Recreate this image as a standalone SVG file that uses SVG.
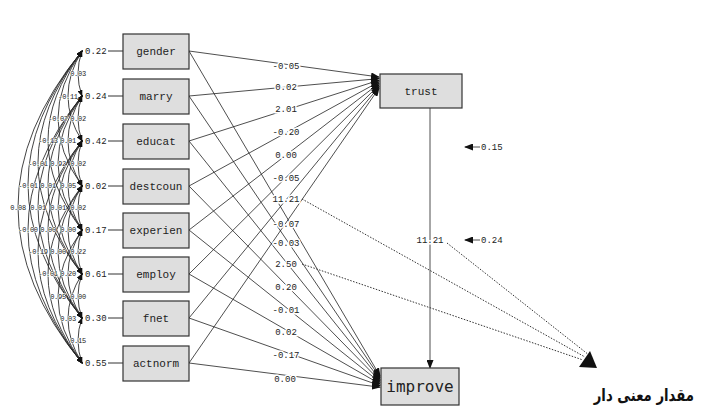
<svg xmlns="http://www.w3.org/2000/svg" width="704" height="410" viewBox="0 0 704 410">
<style>
.box{fill:#dedede;stroke:#333;stroke-width:1.2}
.nl{font-family:"Liberation Mono","DejaVu Sans Mono",monospace;font-size:11px;fill:#222;text-anchor:middle}
.lb{font-family:"Liberation Mono","DejaVu Sans Mono",monospace;font-size:9px;fill:#222;text-anchor:middle;stroke:#fff;stroke-width:3;paint-order:stroke}
.cl{font-family:"Liberation Mono","DejaVu Sans Mono",monospace;font-size:7px;letter-spacing:-0.3px;fill:#222;text-anchor:middle;stroke:#fff;stroke-width:1;paint-order:stroke}
.vl{font-family:"Liberation Mono","DejaVu Sans Mono",monospace;font-size:9px;fill:#222}
.p{fill:none;stroke:#222;stroke-width:0.8;marker-end:url(#ah)}
.arc{fill:none;stroke:#222;stroke-width:0.85;marker-start:url(#as);marker-end:url(#as)}
.dot{fill:none;stroke:#333;stroke-width:1;stroke-dasharray:1.5 1.5}
</style>
<defs>
<marker id="ah" markerUnits="userSpaceOnUse" markerWidth="9" markerHeight="7" refX="8" refY="3.5" orient="auto"><path d="M0,0 L9,3.5 L0,7 z" fill="#111"/></marker>
<marker id="as" markerUnits="userSpaceOnUse" markerWidth="7" markerHeight="5" refX="6" refY="2.5" orient="auto-start-reverse"><path d="M0,0 L7,2.5 L0,5 z" fill="#111"/></marker>
</defs>
<rect width="704" height="410" fill="#fff"/>

<g id="covariances">
<path class="arc" d="M82,51 Q74,73.5 82,96"/>
<path class="arc" d="M82,51 Q54,96 82,141"/>
<path class="arc" d="M82,51 Q34,118.5 82,186"/>
<path class="arc" d="M82,51 Q14,140.5 82,230"/>
<path class="arc" d="M82,51 Q-6,162.5 82,274"/>
<path class="arc" d="M82,51 Q-26,184.5 82,318"/>
<path class="arc" d="M82,51 Q-46,207 82,363"/>
<path class="arc" d="M82,96 Q74,118.5 82,141"/>
<path class="arc" d="M82,96 Q54,141 82,186"/>
<path class="arc" d="M82,96 Q34,163 82,230"/>
<path class="arc" d="M82,96 Q14,185 82,274"/>
<path class="arc" d="M82,96 Q-6,207 82,318"/>
<path class="arc" d="M82,96 Q-26,229.5 82,363"/>
<path class="arc" d="M82,141 Q74,163.5 82,186"/>
<path class="arc" d="M82,141 Q54,185.5 82,230"/>
<path class="arc" d="M82,141 Q34,207.5 82,274"/>
<path class="arc" d="M82,141 Q14,229.5 82,318"/>
<path class="arc" d="M82,141 Q-6,252 82,363"/>
<path class="arc" d="M82,186 Q74,208 82,230"/>
<path class="arc" d="M82,186 Q54,230 82,274"/>
<path class="arc" d="M82,186 Q34,252 82,318"/>
<path class="arc" d="M82,186 Q14,274.5 82,363"/>
<path class="arc" d="M82,230 Q74,252 82,274"/>
<path class="arc" d="M82,230 Q54,274 82,318"/>
<path class="arc" d="M82,230 Q34,296.5 82,363"/>
<path class="arc" d="M82,274 Q74,296 82,318"/>
<path class="arc" d="M82,274 Q54,318.5 82,363"/>
<path class="arc" d="M82,318 Q74,340.5 82,363"/>
<text class="cl" x="78" y="76">0.03</text>
<text class="cl" x="68" y="99">-0.11</text>
<text class="cl" x="58" y="121">-0.07</text>
<text class="cl" x="78" y="121">0.02</text>
<text class="cl" x="48" y="143">-0.13</text>
<text class="cl" x="68" y="143">0.01</text>
<text class="cl" x="38" y="166">-0.01</text>
<text class="cl" x="58" y="166">0.92</text>
<text class="cl" x="78" y="166">0.02</text>
<text class="cl" x="28" y="188">-0.01</text>
<text class="cl" x="48" y="188">0.01</text>
<text class="cl" x="68" y="188">0.05</text>
<text class="cl" x="18" y="210">0.08</text>
<text class="cl" x="38" y="210">0.01</text>
<text class="cl" x="58" y="210">0.01</text>
<text class="cl" x="78" y="210">0.02</text>
<text class="cl" x="28" y="232">-0.00</text>
<text class="cl" x="48" y="232">0.00</text>
<text class="cl" x="68" y="232">0.00</text>
<text class="cl" x="38" y="254">-0.19</text>
<text class="cl" x="58" y="254">0.00</text>
<text class="cl" x="78" y="254">0.22</text>
<text class="cl" x="48" y="276">-0.01</text>
<text class="cl" x="68" y="276">0.20</text>
<text class="cl" x="58" y="299">0.95</text>
<text class="cl" x="78" y="299">0.00</text>
<text class="cl" x="68" y="321">0.03</text>
<text class="cl" x="78" y="343">0.15</text>
</g>

<g id="variances">
<text class="vl" x="85" y="54">0.22</text><line x1="108" y1="51" x2="123" y2="51" stroke="#333"/>
<text class="vl" x="85" y="99">0.24</text><line x1="108" y1="96" x2="123" y2="96" stroke="#333"/>
<text class="vl" x="85" y="144">0.42</text><line x1="108" y1="141" x2="123" y2="141" stroke="#333"/>
<text class="vl" x="85" y="189">0.02</text><line x1="108" y1="186" x2="123" y2="186" stroke="#333"/>
<text class="vl" x="85" y="233">0.17</text><line x1="108" y1="230" x2="123" y2="230" stroke="#333"/>
<text class="vl" x="85" y="277">0.61</text><line x1="108" y1="274" x2="123" y2="274" stroke="#333"/>
<text class="vl" x="85" y="321">0.30</text><line x1="108" y1="318" x2="123" y2="318" stroke="#333"/>
<text class="vl" x="85" y="366">0.55</text><line x1="108" y1="363" x2="123" y2="363" stroke="#333"/>
</g>

<g id="connectors">
<line class="p" x1="189" y1="51" x2="379" y2="77"/>
<line class="p" x1="189" y1="96" x2="379" y2="78.6"/>
<line class="p" x1="189" y1="141" x2="379" y2="80.2"/>
<line class="p" x1="189" y1="186" x2="379" y2="81.8"/>
<line class="p" x1="189" y1="230" x2="379" y2="83.4"/>
<line class="p" x1="189" y1="274" x2="379" y2="85"/>
<line class="p" x1="189" y1="318" x2="379" y2="86.6"/>
<line class="p" x1="189" y1="363" x2="379" y2="88.2"/>
<line class="p" x1="189" y1="51" x2="380" y2="376"/>
<line class="p" x1="189" y1="96" x2="380" y2="377.6"/>
<line class="p" x1="189" y1="141" x2="380" y2="379.2"/>
<line class="p" x1="189" y1="186" x2="380" y2="380.8"/>
<line class="p" x1="189" y1="230" x2="380" y2="382.4"/>
<line class="p" x1="189" y1="274" x2="380" y2="384"/>
<line class="p" x1="189" y1="318" x2="380" y2="385.6"/>
<line class="p" x1="189" y1="363" x2="380" y2="387.2"/>
<line class="p" x1="430" y1="108" x2="430" y2="368"/>
<line class="dot" x1="302" y1="199" x2="585" y2="357"/>
<line class="dot" x1="302" y1="264" x2="583" y2="360"/>
<line class="dot" x1="447" y1="243" x2="589" y2="355"/>
<polygon points="579,367 590,351 597,368" fill="#111"/>
<line class="p" x1="480" y1="147" x2="465" y2="147"/>
<line class="p" x1="480" y1="240" x2="465" y2="240"/>
<text class="lb" x="286" y="69">-0.05</text>
<text class="lb" x="286" y="90">0.02</text>
<text class="lb" x="286" y="112">2.01</text>
<text class="lb" x="286" y="135">-0.20</text>
<text class="lb" x="286" y="158">0.00</text>
<text class="lb" x="286" y="181">-0.05</text>
<text class="lb" x="286" y="202">11.21</text>
<text class="lb" x="286" y="227">-0.07</text>
<text class="lb" x="286" y="246">-0.03</text>
<text class="lb" x="286" y="267">2.50</text>
<text class="lb" x="286" y="290">0.20</text>
<text class="lb" x="286" y="313">-0.01</text>
<text class="lb" x="286" y="335">0.02</text>
<text class="lb" x="286" y="358">-0.17</text>
<text class="lb" x="285" y="382">0.00</text>
<text class="lb" x="430" y="243">11.21</text>
<text class="vl" x="481" y="150">0.15</text>
<text class="vl" x="481" y="243">0.24</text>
</g>

<g id="gender"><rect class="box" x="123" y="34" width="66" height="35"/><text class="nl" x="156" y="55">gender</text></g>
<g id="marry"><rect class="box" x="123" y="79" width="66" height="35"/><text class="nl" x="156" y="100">marry</text></g>
<g id="educat"><rect class="box" x="123" y="124" width="66" height="35"/><text class="nl" x="156" y="145">educat</text></g>
<g id="destcoun"><rect class="box" x="123" y="169" width="66" height="35"/><text class="nl" x="156" y="190">destcoun</text></g>
<g id="experien"><rect class="box" x="123" y="213" width="66" height="35"/><text class="nl" x="156" y="234">experien</text></g>
<g id="employ"><rect class="box" x="123" y="257" width="66" height="35"/><text class="nl" x="156" y="278">employ</text></g>
<g id="fnet"><rect class="box" x="123" y="301" width="66" height="35"/><text class="nl" x="156" y="322">fnet</text></g>
<g id="actnorm"><rect class="box" x="123" y="346" width="66" height="35"/><text class="nl" x="156" y="367">actnorm</text></g>
<g id="trust"><rect class="box" x="380" y="74" width="82" height="34"/><text class="nl" x="421" y="95">trust</text></g>
<g id="improve"><rect class="box" x="381" y="368" width="78" height="37"/><text x="420" y="392" font-family="'DejaVu Sans Mono',monospace" font-size="16" fill="#222" text-anchor="middle">improve</text></g>

<text transform="translate(694,401) scale(0.78,1)" x="0" y="0" font-family="'DejaVu Sans',sans-serif" font-size="17" font-weight="bold" fill="#111" text-anchor="end">مقدار معنی دار</text>
</svg>
